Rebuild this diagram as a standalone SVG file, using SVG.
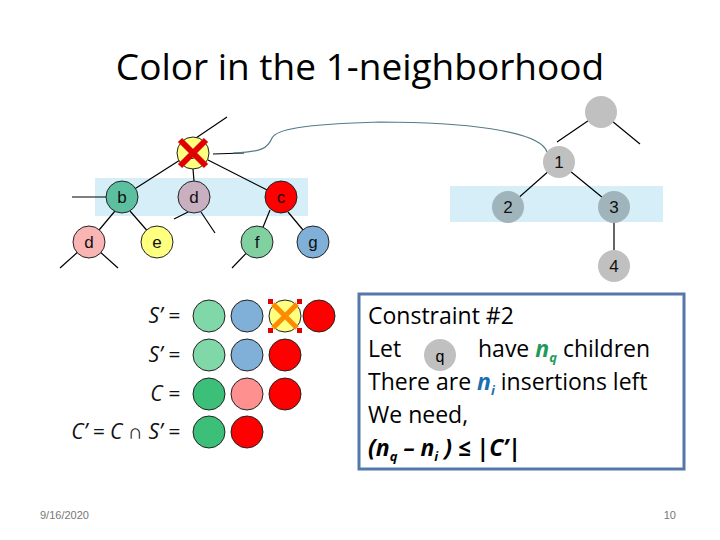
<svg xmlns="http://www.w3.org/2000/svg" width="720" height="540" viewBox="0 0 720 540">
<style>
.n{stroke:#222;stroke-width:1}
.l{stroke:#000;stroke-width:1.2;fill:none}
.t{font-family:"Liberation Sans",Arial,sans-serif;font-size:17px;text-anchor:middle;fill:#111}
.s{font-family:"Open Sans","Liberation Sans",sans-serif;font-size:21px;font-style:italic;text-anchor:end;fill:#111}
.b{font-family:"Open Sans","Liberation Sans",sans-serif;font-size:23px;fill:#000}
</style>
<rect width="720" height="540" fill="#fff"/>
<text x="360" y="80" font-family="Open Sans,Liberation Sans,sans-serif" font-size="37" text-anchor="middle" fill="#000">Color in the 1-neighborhood</text>
<rect x="95" y="178" width="213" height="38" fill="#d6eef8"/>
<rect x="450" y="186" width="213" height="36" fill="#d6eef8"/>
<g id="connectors">
<path class="l" d="M193 140L227 117M213 154L244 153M72 197L106 197M180 160L122 197M193 169L194 181M208 160L281 197M115 211L89 242M130 211L157 242M188 212L174 219M201 212L215 233M89 242L60 268M89 242L118 268M270 210L257 242M288 212L313 242M257 242L232 268"/>
<path d="M233 153C262 152 268 148 272 138C276 130 300 124 380 122C460 122 540 130 547 152" stroke="#557a8a" stroke-width="1.2" fill="none"/>
<path class="l" d="M601 112L557 142M601 112L640 144M559 162L508 207M559 162L614 207M614 207L614 266"/>
</g>
<g id="a"><circle class="n" cx="193" cy="153" r="16" fill="#ffff80"/><text class="t" x="193" y="159">a</text>
<path d="M180 140L206 166M206 140L180 166" stroke="#e00000" stroke-width="6"/></g>
<g id="b"><circle class="n" cx="122" cy="197" r="16" fill="#5cc0a0"/><text class="t" x="122" y="203">b</text></g>
<g id="d1"><circle class="n" cx="194" cy="197" r="16" fill="#c8b0c0"/><text class="t" x="194" y="203">d</text></g>
<g id="c"><circle class="n" cx="281" cy="197" r="16" fill="#ff0000"/><text class="t" x="281" y="203">c</text></g>
<g id="d2"><circle class="n" cx="89" cy="242" r="16" fill="#f9b4b4"/><text class="t" x="89" y="248">d</text></g>
<g id="e"><circle class="n" cx="157" cy="242" r="16" fill="#ffff80"/><text class="t" x="157" y="248">e</text></g>
<g id="f"><circle class="n" cx="257" cy="242" r="16" fill="#80d0a0"/><text class="t" x="257" y="248">f</text></g>
<g id="g"><circle class="n" cx="313" cy="242" r="16" fill="#80b0d8"/><text class="t" x="313" y="248">g</text></g>
<g id="top"><circle cx="601" cy="112" r="16" fill="#c0c0c0"/></g>
<g id="n1"><circle cx="559" cy="162" r="16" fill="#c0c0c0"/><text class="t" x="559" y="168">1</text></g>
<g id="n2"><circle cx="508" cy="207" r="16" fill="#a0b4bc"/><text class="t" x="508" y="213">2</text></g>
<g id="n3"><circle cx="614" cy="207" r="16" fill="#a0b4bc"/><text class="t" x="614" y="213">3</text></g>
<g id="n4"><circle cx="614" cy="266" r="16" fill="#c0c0c0"/><text class="t" x="614" y="272">4</text></g>
<g id="sets">
<text class="s" x="180" y="323">S’ =</text>
<text class="s" x="180" y="362">S’ =</text>
<text class="s" x="180" y="401">C  =</text>
<text class="s" x="180" y="439">C’ = C ∩ S’ =</text>
<circle class="n" cx="209" cy="316" r="16" fill="#80d8a8"/><circle class="n" cx="247" cy="316" r="16" fill="#80b0d8"/><circle class="n" cx="285" cy="316" r="16" fill="#ffff80"/><circle class="n" cx="319" cy="316" r="16" fill="#ff0000"/>
<path d="M273 304L297 328M297 304L273 328" stroke="#ff8c00" stroke-width="5"/>
<g fill="#e00000"><rect x="268" y="299" width="5" height="5"/><rect x="297" y="299" width="5" height="5"/><rect x="268" y="328" width="5" height="5"/><rect x="297" y="328" width="5" height="5"/></g>
<circle class="n" cx="209" cy="355" r="16" fill="#80d8a8"/><circle class="n" cx="247" cy="355" r="16" fill="#80b0d8"/><circle class="n" cx="285" cy="355" r="16" fill="#ff0000"/>
<circle class="n" cx="209" cy="394" r="16" fill="#3cbf78"/><circle class="n" cx="247" cy="394" r="16" fill="#ff9090"/><circle class="n" cx="285" cy="394" r="16" fill="#ff0000"/>
<circle class="n" cx="209" cy="432" r="16" fill="#3cbf78"/><circle class="n" cx="247" cy="432" r="16" fill="#ff0000"/>
</g>
<g id="box">
<rect x="359" y="294" width="325" height="175" fill="none" stroke="#5577aa" stroke-width="3"/>
<text class="b" x="368" y="324" fill="#1e9a5a">Constraint #2</text>
<circle cx="440" cy="355" r="16" fill="#c0c0c0"/><text x="440" y="362" font-family="Liberation Sans,sans-serif" font-size="16" text-anchor="middle">q</text>
<text class="b" x="368" y="357">Let<tspan x="478">have </tspan><tspan fill="#1e9a5a" font-weight="bold" font-style="italic">n</tspan><tspan fill="#1e9a5a" font-weight="bold" font-style="italic" font-size="13" dy="5">q</tspan><tspan dy="-5">  children</tspan></text>
<text class="b" x="368" y="390">There are <tspan fill="#1a6fb0" font-weight="bold" font-style="italic">n</tspan><tspan fill="#1a6fb0" font-weight="bold" font-style="italic" font-size="13" dy="5">i</tspan><tspan dy="-5"> insertions left</tspan></text>
<text class="b" x="368" y="423">We need,</text>
<text class="b" x="368" y="456" fill="#1a6fb0" font-weight="bold" font-style="italic">(n<tspan font-size="13" dy="5">q</tspan><tspan dy="-5"> – n</tspan><tspan font-size="13" dy="5">i</tspan><tspan dy="-5"> ) ≤ |C’|</tspan></text>
</g>
<text x="40" y="519" font-family="Liberation Sans,sans-serif" font-size="11" fill="#777">9/16/2020</text>
<text x="676" y="519" font-family="Liberation Sans,sans-serif" font-size="11" fill="#777" text-anchor="end">10</text>
</svg>
